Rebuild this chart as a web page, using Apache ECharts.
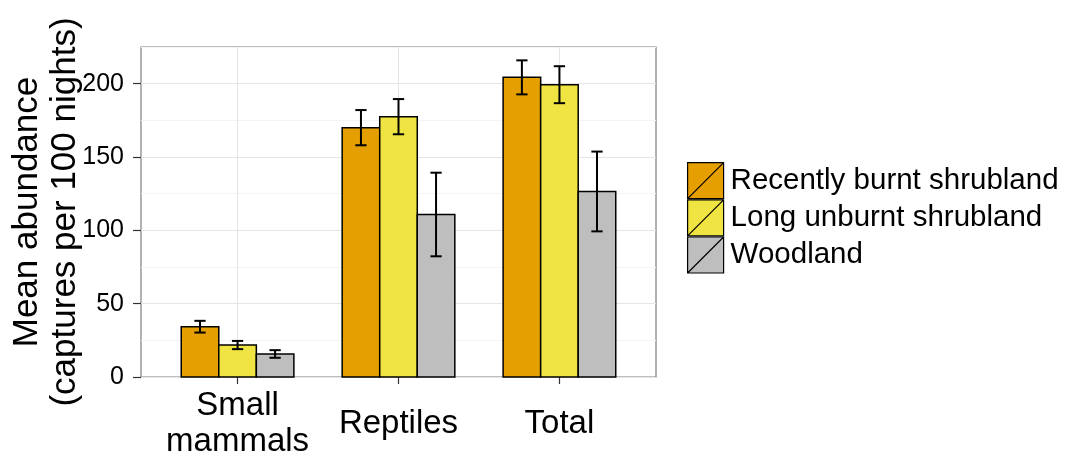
<!DOCTYPE html>
<html>
<head>
<meta charset="utf-8">
<script src="https://cdn.jsdelivr.net/npm/echarts@6/dist/echarts.min.js"></script>
<style>
  html, body { margin: 0; padding: 0; background: #fff; }
  #chart { width: 1065px; height: 457px; }
</style>
</head>
<body>
<div id="chart"></div>
<script>
const categories = ['Small\nmammals', 'Reptiles', 'Total'];
const seriesNames = ['Recently burnt shrubland', 'Long unburnt shrubland', 'Woodland'];
const recentMean = [34.3, 170.0, 204.3];
const recentErr = [4.0, 12.0, 11.6];
const longMean = [21.8, 177.5, 199.3];
const longErr = [2.8, 12.0, 12.6];
const woodMean = [15.7, 110.8, 126.5];
const woodErr = [2.6, 28.5, 27.2];
const yTicks = [0, 50, 100, 150, 200];

const colors = ['#E69F00', '#F0E442', '#BEBEBE'];
const means = [recentMean, longMean, woodMean];
const errs = [recentErr, longErr, woodErr];
const FONT = "'Liberation Sans', Arial, Helvetica, sans-serif";
const barW = 0.2333;
const capHalf = 0.035;

function makeRender(offset) {
  return function (params, api) {
    const x = api.value(0) + offset;
    const v = api.value(1);
    const e = api.value(2);
    const tl = api.coord([x - barW / 2, v]);
    const br = api.coord([x + barW / 2, 0]);
    const top = api.coord([x, v + e]);
    const bot = api.coord([x, v - e]);
    const cl = api.coord([x - capHalf, v])[0];
    const cr = api.coord([x + capHalf, v])[0];
    const lineStyle = { stroke: '#000', lineWidth: 2 };
    return {
      type: 'group',
      children: [
        { type: 'rect', shape: { x: tl[0], y: tl[1], width: br[0] - tl[0], height: br[1] - tl[1] },
          style: { fill: api.visual('color'), stroke: '#000', lineWidth: 1.5 } },
        { type: 'line', shape: { x1: top[0], y1: top[1], x2: bot[0], y2: bot[1] }, style: lineStyle },
        { type: 'line', shape: { x1: cl, y1: top[1], x2: cr, y2: top[1] }, style: lineStyle },
        { type: 'line', shape: { x1: cl, y1: bot[1], x2: cr, y2: bot[1] }, style: lineStyle }
      ]
    };
  };
}

const offsets = [-barW, 0, barW];
const series = seriesNames.map((name, s) => ({
  name: name,
  type: 'custom',
  xAxisIndex: 0,
  yAxisIndex: 0,
  clip: false,
  itemStyle: { color: colors[s], borderColor: '#000', borderWidth: 1.5 },
  encode: { x: 0, y: 1 },
  renderItem: makeRender(offsets[s]),
  data: categories.map((c, i) => [i + 1, means[s][i], errs[s][i]])
}));

const chart = echarts.init(document.getElementById('chart'), null, { renderer: 'canvas' });
chart.setOption({
  animation: false,
  backgroundColor: '#fff',
  textStyle: { fontFamily: FONT },
  grid: { left: 141, right: 409, top: 47, bottom: 80, containLabel: false, outerBoundsMode: 'none',
          show: true, borderColor: '#7f7f7f', borderWidth: 1.2, backgroundColor: 'transparent' },
  legend: {
    orient: 'vertical',
    left: 682,
    top: 157,
    itemWidth: 36,
    itemHeight: 36,
    itemGap: 0,
    icon: 'path://M0,0L10,0L10,10L0,10Z M0,10L10,0',
    itemStyle: { borderWidth: 1.2, borderColor: '#000' },
    textStyle: { fontSize: 29.5, color: '#000', fontFamily: FONT, padding: [0, 0, 0, 2] },
    data: seriesNames
  },
  xAxis: {
    type: 'value',
    min: 0.4,
    max: 3.6,
    axisLine: { show: false },
    axisTick: { show: true, length: 7, customValues: [1, 2, 3], lineStyle: { color: '#333', width: 1.2 } },
    axisLabel: {
      customValues: [1, 2, 3],
      formatter: v => categories[Math.round(v) - 1],
      fontSize: 33, lineHeight: 36, color: '#000', fontFamily: FONT,
      verticalAlign: 'middle', margin: 47
    },
    splitLine: { show: true, lineStyle: { color: '#E5E5E5', width: 1 } }
  },
  yAxis: [
    {
      type: 'value',
      min: 0, max: 225, interval: 25,
      position: 'left',
      axisLine: { show: false },
      axisTick: { show: false },
      axisLabel: { show: false },
      splitLine: { show: true, lineStyle: { color: ['#E5E5E5', '#F4F4F4'], width: 1 } },
      name: 'Mean abundance\n(captures per 100 nights)',
      nameLocation: 'middle',
      nameRotate: 90,
      nameGap: 57,
      nameTextStyle: { fontSize: 35, lineHeight: 38, color: '#000', fontFamily: FONT }
    },
    {
      type: 'value',
      min: 0, max: 225, interval: 50,
      position: 'left',
      axisLine: { show: false },
      axisTick: { show: true, length: 8, customValues: yTicks, lineStyle: { color: '#333', width: 1.2 } },
      axisLabel: { customValues: yTicks, fontSize: 25, color: '#000', fontFamily: FONT, margin: 17 },
      splitLine: { show: false }
    }
  ],
  series: series
});
</script>
</body>
</html>
